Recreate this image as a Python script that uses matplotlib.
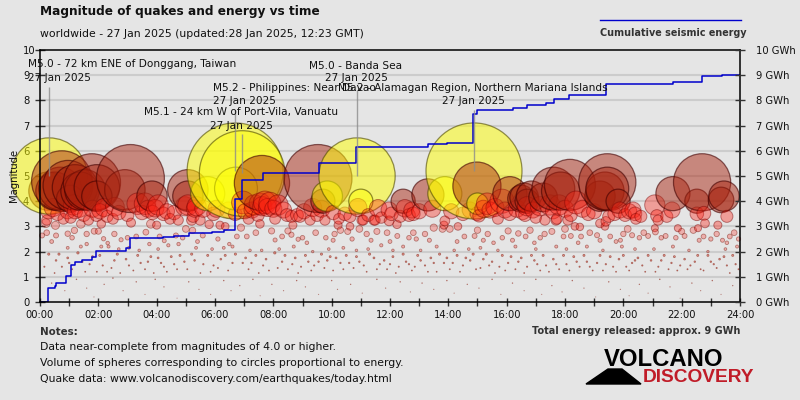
import matplotlib
matplotlib.use("Agg")
import matplotlib.pyplot as plt
import numpy as np
from matplotlib.patches import Polygon

# (hour, magnitude)
yellow_quakes = [(0.31, 5.0), (5.75, 4.3), (6.69, 5.2), (6.72, 4.5), (6.93, 5.1), (9.85, 4.2), (10.87, 5.0),
                 (11.0, 4.0), (13.88, 4.3), (14.88, 5.2), (15.0, 3.9)]
dark_quakes = [(0.27, 4.4), (0.51, 4.4), (0.69, 4.5), (0.75, 4.8), (0.96, 4.63), (1.03, 4.1), (1.2, 4.55),
               (1.37, 4.4), (1.54, 4.45), (1.78, 4.75), (1.95, 4.55), (1.95, 4.2), (2.91, 4.45), (3.1, 4.9),
               (3.84, 4.2), (5.07, 4.45), (5.07, 4.2), (7.61, 4.72), (9.53, 4.9), (9.7, 4.0), (12.45, 4.0),
               (13.3, 4.25), (14.98, 4.6), (16.11, 4.3), (16.5, 4.1), (16.6, 4.15), (16.7, 4.0), (16.85, 4.2),
               (17.25, 4.15), (17.6, 4.5), (17.85, 4.4), (18.17, 4.65), (19.2, 4.2), (19.37, 4.4), (19.45, 4.75),
               (19.45, 4.5), (19.82, 4.0), (21.7, 4.3), (22.52, 4.0), (22.7, 4.75), (23.35, 4.05), (23.45, 4.2)]
mid_quakes = [(0.23, 3.25), (0.29, 3.6), (0.8, 3.3), (1.2, 3.6), (1.15, 3.85), (1.66, 3.25), (1.94, 3.45), (2.1, 3.1),
              (2.3, 3.4), (2.5, 3.3), (2.57, 3.78), (3.0, 3.45), (3.12, 3.15), (3.35, 3.9), (3.6, 3.9), (3.95, 3.72),
              (4.05, 3.85), (4.23, 3.5), (4.46, 3.3), (4.74, 3.25), (4.97, 3.8), (5.2, 3.25), (5.31, 3.7), (4.0, 3.05),
              (5.07, 3.85), (5.37, 3.8), (5.25, 3.4), (5.49, 3.25), (5.8, 3.08), (6.17, 3.05), (6.35, 3.0), (6.69, 3.5),
              (7.03, 3.6), (7.27, 3.65), (7.47, 3.45), (7.54, 3.1), (7.71, 3.95), (7.54, 3.9), (7.88, 3.92), (8.06, 3.3),
              (8.16, 3.85), (8.47, 3.45), (8.81, 3.45), (8.67, 3.05), (8.91, 3.4), (9.26, 3.25), (9.5, 3.45), (9.77, 3.25),
              (10.25, 3.3), (10.22, 3.05), (10.63, 3.4), (10.9, 3.75), (11.04, 3.25), (11.45, 3.25), (10.63, 3.0),
              (6.96, 3.95), (11.08, 3.25), (11.49, 3.25), (11.97, 3.65), (11.97, 3.22), (12.24, 3.08), (11.59, 3.72),
              (12.51, 3.72), (12.75, 3.65), (12.8, 3.5), (13.88, 3.22), (13.85, 3.05), (14.33, 3.0), (14.98, 3.5),
              (15.05, 3.42), (15.33, 3.9), (15.43, 3.65), (15.7, 3.3), (15.94, 3.65), (15.84, 4.0), (16.63, 3.45),
              (16.9, 3.65), (17.31, 3.25), (17.59, 3.6), (17.72, 3.3), (17.14, 3.8), (17.48, 3.85), (17.8, 3.85),
              (16.7, 3.8), (17.69, 3.25), (18.1, 3.25), (18.38, 3.95), (18.34, 3.0), (18.51, 2.98), (18.8, 3.5),
              (19.2, 3.12), (19.4, 3.2), (19.5, 3.4), (19.37, 3.0), (19.88, 3.65), (20.06, 3.45), (20.33, 3.65),
              (20.4, 3.5), (20.43, 3.3), (21.08, 3.85), (21.15, 3.42), (21.19, 3.25), (21.49, 3.4), (21.67, 3.65),
              (22.52, 3.5), (22.76, 3.52), (22.8, 3.12), (23.24, 3.05), (23.55, 3.4), (21.87, 2.93), (22.56, 2.93),
              (21.08, 2.93), (0.45, 3.75), (0.6, 3.5), (0.95, 3.6), (1.05, 3.35), (1.35, 3.7), (1.5, 3.45), (1.8, 3.7),
              (2.05, 3.6), (2.2, 3.75), (2.7, 3.55), (3.5, 3.55), (3.7, 3.7), (3.85, 3.55), (4.35, 3.6), (4.6, 3.55),
              (5.6, 3.7), (5.95, 3.5), (6.05, 3.7), (6.45, 3.65), (7.15, 3.3), (7.35, 3.85), (7.62, 3.8), (7.8, 3.75),
              (8.0, 3.7), (8.35, 3.65), (8.62, 3.4), (9.05, 3.6), (9.35, 3.75), (9.65, 3.7), (10.05, 3.55), (10.45, 3.5),
              (11.25, 3.45), (11.7, 3.35), (12.05, 3.5), (12.35, 3.4), (12.65, 3.45), (13.0, 3.6), (13.45, 3.7),
              (14.1, 3.6), (14.5, 3.5), (14.75, 3.65), (15.2, 3.7), (15.6, 3.75), (16.1, 3.5), (16.35, 3.7), (16.55, 3.55),
              (17.0, 3.35), (18.0, 3.7), (18.2, 3.45), (18.6, 3.7), (19.0, 3.6), (19.7, 3.5), (20.2, 3.6), (20.6, 3.4)]
low_quakes = [(0.07, 2.64), (0.23, 2.75), (0.53, 3.04), (0.2, 3.13), (0.95, 2.71), (1.18, 2.84), (0.55, 2.64), (1.4, 3.1),
              (1.86, 2.81), (2.0, 2.81), (2.18, 2.51), (2.32, 2.34), (2.78, 2.47), (3.0, 2.55), (3.63, 2.77), (3.8, 3.1),
              (4.26, 2.43), (4.66, 2.64), (4.89, 2.55), (5.23, 2.84), (5.58, 2.64), (6.49, 2.3), (6.89, 2.95), (7.09, 2.6),
              (7.94, 2.82), (8.5, 2.82), (8.62, 2.67), (8.85, 2.49), (8.06, 2.46), (9.15, 2.35), (9.45, 2.75), (9.8, 2.55),
              (10.05, 2.45), (10.3, 2.85), (10.55, 2.8), (10.95, 2.9), (11.2, 2.7), (11.55, 2.8), (11.9, 2.75), (12.25, 2.62),
              (12.65, 2.55), (12.9, 2.5), (13.2, 2.7), (13.5, 2.95), (13.8, 2.9), (14.05, 2.9), (14.55, 2.6), (14.9, 2.62),
              (15.2, 2.45), (15.55, 2.35), (15.85, 2.55), (16.05, 2.82), (16.4, 2.72), (16.65, 2.6), (16.95, 2.35),
              (17.3, 2.7), (17.55, 2.8), (17.95, 2.6), (18.2, 2.62), (18.45, 2.35), (18.85, 2.75), (19.1, 2.65), (19.55, 2.6),
              (19.75, 2.4), (20.0, 2.7), (20.3, 2.65), (20.55, 2.55), (20.85, 2.62), (21.1, 2.78), (21.45, 2.62), (21.8, 2.55),
              (22.1, 2.62), (22.4, 2.85), (22.75, 2.6), (23.0, 2.5), (23.4, 2.45), (23.65, 2.6), (23.8, 2.75), (23.95, 2.5),
              (0.95, 2.15), (1.4, 2.2), (1.6, 2.3), (2.1, 2.2), (2.35, 2.2), (2.7, 2.1), (3.05, 2.15), (3.4, 2.05), (3.75, 2.3),
              (4.05, 2.1), (4.4, 2.25), (4.75, 2.3), (5.35, 2.15), (5.9, 2.1), (6.3, 2.15), (6.6, 2.2), (7.2, 2.05), (7.6, 2.05),
              (8.2, 2.1), (8.7, 2.2), (9.35, 2.0), (9.9, 2.1), (10.4, 2.15), (10.85, 2.05), (11.25, 2.1), (11.7, 2.25), (12.1, 2.05),
              (12.45, 2.2), (13.05, 2.05), (13.6, 2.2), (14.2, 2.05), (14.7, 2.1), (15.1, 2.15), (15.7, 2.05), (16.3, 2.2),
              (17.0, 2.1), (17.7, 2.2), (18.05, 2.1), (18.75, 2.2), (19.3, 2.05), (19.95, 2.2), (20.4, 2.1), (21.05, 2.1),
              (21.7, 2.2), (22.25, 2.05), (22.9, 2.0), (23.5, 2.1), (23.9, 2.2), (0.4, 2.4), (1.1, 2.55), (1.6, 2.7), (2.55, 2.7),
              (3.3, 2.6), (4.1, 2.6), (5.0, 2.9), (5.4, 2.4), (6.1, 2.5), (6.75, 2.6), (7.4, 2.75), (8.3, 2.6), (9.0, 2.55),
              (10.1, 2.7), (10.7, 2.5), (11.35, 2.45), (12.0, 2.4), (12.8, 2.75), (13.35, 2.45), (14.3, 2.4), (15.0, 2.85),
              (15.35, 2.7), (16.2, 2.45), (16.8, 2.85), (17.15, 2.55), (18.0, 2.9), (18.55, 2.6), (19.2, 2.45), (19.9, 2.45),
              (20.15, 2.9), (20.7, 2.75), (21.3, 2.55), (22.0, 2.8), (22.6, 2.45), (23.2, 2.7), (23.55, 2.35)]
tiny_quakes = [(0.15, 1.4), (0.3, 1.9), (0.55, 1.65), (0.75, 1.4), (0.95, 1.75), (1.1, 1.3), (1.3, 1.95), (1.55, 1.2),
               (1.7, 1.5), (1.95, 1.2), (2.05, 1.85), (2.3, 1.2), (2.55, 1.65), (2.75, 1.15), (2.95, 1.7), (3.2, 1.25),
               (3.45, 1.55), (3.7, 1.6), (3.9, 1.15), (4.15, 1.55), (4.35, 1.2), (4.6, 1.5), (4.8, 1.85), (5.05, 1.3),
               (5.3, 1.65), (5.5, 1.15), (5.75, 1.85), (5.95, 1.45), (6.2, 1.7), (6.45, 1.25), (6.7, 1.9), (6.95, 1.55),
               (7.15, 1.3), (7.4, 1.85), (7.65, 1.45), (7.85, 1.25), (8.05, 1.95), (8.3, 1.6), (8.5, 1.3), (8.75, 1.75),
               (8.95, 1.4), (9.2, 1.6), (9.4, 1.45), (9.65, 1.9), (9.85, 1.65), (10.05, 1.25), (10.3, 1.55), (10.5, 1.85),
               (10.75, 1.35), (10.95, 1.6), (11.2, 1.2), (11.45, 1.75), (11.65, 1.5), (11.9, 1.3), (12.1, 1.8), (12.3, 1.4),
               (12.55, 1.6), (12.75, 1.25), (12.95, 1.85), (13.2, 1.45), (13.4, 1.75), (13.6, 1.2), (13.85, 1.55), (14.05, 1.3),
               (14.3, 1.85), (14.5, 1.45), (14.75, 1.65), (14.95, 1.3), (15.2, 1.7), (15.4, 1.45), (15.6, 1.15), (15.85, 1.85),
               (16.05, 1.55), (16.3, 1.3), (16.5, 1.75), (16.7, 1.4), (16.95, 1.65), (17.15, 1.25), (17.35, 1.45), (17.6, 1.7),
               (17.8, 1.3), (18.05, 1.5), (18.3, 1.8), (18.5, 1.4), (18.75, 1.6), (18.95, 1.25), (19.2, 1.85), (19.4, 1.5),
               (19.65, 1.4), (19.85, 1.7), (20.1, 1.4), (20.3, 1.55), (20.5, 1.75), (20.75, 1.2), (20.95, 1.65), (21.2, 1.4),
               (21.4, 1.85), (21.65, 1.55), (21.85, 1.25), (22.1, 1.7), (22.3, 1.45), (22.55, 1.85), (22.75, 1.25), (23.0, 1.6),
               (23.2, 1.35), (23.45, 1.8), (23.65, 1.15), (23.85, 1.5), (0.4, 0.75), (0.85, 0.45), (1.25, 0.9), (1.6, 0.55),
               (1.85, 0.2), (2.2, 0.7), (2.5, 0.95), (2.85, 0.45), (3.3, 0.8), (3.6, 0.3), (3.95, 0.9), (4.25, 0.6), (4.7, 0.15),
               (5.1, 0.8), (5.45, 0.5), (5.85, 0.3), (6.3, 0.85), (6.55, 0.45), (6.85, 0.65), (7.3, 0.9), (7.55, 0.25),
               (7.95, 0.7), (8.35, 0.45), (8.8, 0.85), (9.1, 0.6), (9.55, 0.3), (10.0, 0.85), (10.2, 0.5), (10.65, 0.7),
               (11.05, 0.35), (11.55, 0.9), (11.85, 0.55), (12.35, 0.8), (12.7, 0.4), (13.1, 0.75), (13.5, 0.5), (13.95, 0.85),
               (14.2, 0.35), (14.65, 0.7), (15.05, 0.55), (15.5, 0.9), (15.8, 0.3), (16.2, 0.75), (16.6, 0.45), (17.0, 0.9),
               (17.2, 0.3), (17.55, 0.65), (17.9, 0.4), (18.25, 0.85), (18.65, 0.55), (19.05, 0.2), (19.5, 0.8), (19.9, 0.5),
               (20.2, 0.25), (20.55, 0.7), (20.85, 0.35), (21.25, 0.9), (21.6, 0.6), (21.95, 0.15), (22.35, 0.75), (22.65, 0.45),
               (23.05, 0.85), (23.35, 0.3), (23.75, 0.65), (0.5, 1.15), (0.65, 1.9), (1.0, 1.55), (1.45, 1.6), (1.8, 1.8),
               (2.15, 1.45), (2.45, 1.35), (2.65, 1.9), (3.05, 1.45), (3.35, 1.85), (3.6, 1.3), (3.8, 1.8), (4.05, 1.75),
               (4.25, 1.4), (4.5, 1.8), (4.7, 1.3), (4.95, 1.6), (5.2, 1.9), (5.6, 1.5), (5.85, 1.2), (6.1, 1.35), (6.35, 1.85),
               (6.6, 1.55), (7.05, 1.75), (7.25, 1.55), (7.5, 1.15), (7.75, 1.7), (8.15, 1.35), (8.4, 1.85), (8.65, 1.5),
               (8.85, 1.15), (9.1, 1.85), (9.3, 1.25), (9.55, 1.6), (9.75, 1.35), (9.95, 1.8), (10.15, 1.75), (10.4, 1.3),
               (10.6, 1.55), (10.85, 1.8), (11.1, 1.45), (11.3, 1.9), (11.55, 1.3), (11.8, 1.65), (12.0, 1.5), (12.2, 1.15),
               (12.45, 1.9), (12.65, 1.5), (12.85, 1.4), (13.05, 1.65), (13.3, 1.2), (13.5, 1.55), (13.7, 1.9), (13.95, 1.75),
               (14.15, 1.55), (14.4, 1.2), (14.6, 1.75), (14.85, 1.9), (15.1, 1.35), (15.3, 1.9), (15.5, 1.6), (15.75, 1.4),
               (15.95, 1.25), (16.15, 1.8), (16.4, 1.6), (16.6, 1.15), (16.85, 1.85), (17.05, 1.5), (17.25, 1.85), (17.45, 1.2),
               (17.7, 1.5), (17.95, 1.85), (18.15, 1.25), (18.4, 1.6), (18.65, 1.85), (18.85, 1.4), (19.1, 1.55), (19.3, 1.25),
               (19.55, 1.8), (19.75, 1.2), (20.0, 1.85), (20.2, 1.25), (20.4, 1.65), (20.65, 1.45), (20.85, 1.85), (21.1, 1.2),
               (21.3, 1.65), (21.55, 1.3), (21.75, 1.8), (21.95, 1.45), (22.2, 1.3), (22.45, 1.6), (22.65, 1.3), (22.9, 1.85),
               (23.1, 1.5), (23.3, 1.7), (23.55, 1.45), (23.75, 1.85), (23.95, 1.3)]

energy_hours = [0, 0.28, 0.5, 0.55, 0.9, 1.05, 1.2, 1.45, 1.78, 1.93, 2.95, 3.1, 3.9, 4.2, 4.6, 5.1, 5.9, 6.3, 6.68, 6.91,
                7.65, 9.57, 10.83, 13.3, 13.95, 14.85, 14.99, 16.2, 16.7, 17.35, 17.63, 18.14, 19.4, 21.7, 22.7, 23.4, 24]
energy_gwh = [0, 0.56, 0.65, 0.77, 1.05, 1.47, 1.58, 1.65, 1.8, 2.03, 2.13, 2.52, 2.55, 2.58, 2.62, 2.72, 2.78, 2.85, 4.07,
              4.84, 5.1, 5.53, 6.16, 6.27, 6.3, 7.45, 7.6, 7.68, 7.82, 7.9, 8.07, 8.2, 8.64, 8.74, 8.97, 9.02, 9.02]

# annotated events: hour, magnitude, top of the leader line
event_hours = [0.31, 6.69, 6.93, 10.87, 14.88]
event_mags = [5.0, 5.2, 5.1, 5.0, 5.2]
event_tops = [8.55, 7.6, 6.65, 8.4, 7.6]
event_names = ["M5.0 - 72 km ENE of Donggang, Taiwan", "M5.2 - Philippines: Near Davao",
               "M5.1 - 24 km W of Port-Vila, Vanuatu", "M5.0 - Banda Sea",
               "M5.2 - Alamagan Region, Northern Mariana Islands"]
event_date = "27 Jan 2025"

hour_ticks = list(range(25))
magnitude_ticks = list(range(11))
BG = "#e5e5e5"
FONT = "DejaVu Sans"


def radius_px(mag):
    # volume proportional to energy
    return 48 * 10 ** (0.5 * (np.asarray(mag) - 5.2))


def ftext(x, y, s, **kw):
    # position in pixels of the 800x400 picture
    kw.setdefault("color", "#111111")
    kw.setdefault("va", "center")
    kw.setdefault("family", FONT)
    return fig.text(x / 800, 1 - y / 400, s, **kw)


fig = plt.figure(figsize=(8, 4), dpi=100, facecolor=BG)
ax = fig.add_axes([40 / 800, 1 - 302 / 400, 700 / 800, 252 / 400], facecolor=BG)
ax.set_xlim(0, 24)
ax.set_ylim(0, 10)

for m in magnitude_ticks[1:-1]:
    ax.axhline(m, color="#cccccc", lw=1.5, zorder=1)

# everything in time order, later quakes lie on top of earlier ones
groups = [(yellow_quakes, (1, 1, 0, 0.5), (0.3, 0.28, 0, 0.6), 0.9),
          (dark_quakes, (0.66, 0.13, 0.05, 0.48), (0.25, 0, 0, 0.6), 0.9),
          (mid_quakes, (1, 0.12, 0.07, 0.36), (0.45, 0, 0, 0.45), 0.7),
          (low_quakes, (1, 0.15, 0.1, 0.28), (0.45, 0.05, 0, 0.45), 0.6),
          (tiny_quakes, (0.9, 0.2, 0.1, 0.4), (0.5, 0.1, 0.05, 0.55), 0.6)]
rows = []
for quakes, fc, ec, lw in groups:
    for t, m in quakes:
        rows.append((t, m, fc, ec, lw))
rows.sort(key=lambda r: r[0])
hours = [r[0] for r in rows]
mags = np.array([r[1] for r in rows])
sizes = (2 * radius_px(mags) * 0.72) ** 2
ax.scatter(hours, mags, s=sizes, c=[r[2] for r in rows], edgecolors=[r[3] for r in rows],
           linewidths=[r[4] for r in rows], zorder=3, clip_on=False)

ax.step(energy_hours, energy_gwh, where="post", color="#0000cc", lw=1.1, zorder=4)
ax.vlines(event_hours, event_mags, event_tops, color="#8c8c8c", lw=1, alpha=0.8, zorder=5)

for side in ax.spines.values():
    side.set_color("black")
    side.set_linewidth(1.1)
    side.set_zorder(6)

ax.set_xticks(hour_ticks)
ax.set_xticklabels(["%02d:00" % h if h % 2 == 0 else "" for h in hour_ticks], fontsize=7.2, family=FONT, color="#111111")
ax.set_yticks(magnitude_ticks)
ax.set_yticklabels(magnitude_ticks, fontsize=7.2, family=FONT, color="#111111", ha="left")
ax.tick_params(axis="x", direction="inout", length=6, width=1, color="#333333", pad=3)
ax.tick_params(axis="y", direction="inout", length=6.5, width=1, color="#333333", pad=9)
right = ax.twinx()
right.set_ylim(0, 10)
right.set_yticks(magnitude_ticks)
right.set_yticklabels(["%d GWh" % m for m in magnitude_ticks], fontsize=7.2, family=FONT, color="#111111")
right.tick_params(axis="y", direction="inout", length=6.5, width=1, color="#333333", pad=8)
right.spines[:].set_visible(False)

ftext(14, 175, "Magnitude", fontsize=7.2, rotation=90, ha="center")

# event labels
ftext(28, 64, event_names[0], fontsize=7.6, ha="left")
ftext(28, 78, event_date, fontsize=7.6, ha="left")
ftext(213, 88, event_names[1], fontsize=7.6, ha="left")
ftext(213, 101, event_date, fontsize=7.6, ha="left")
ftext(241, 112, event_names[2], fontsize=7.6, ha="center")
ftext(241, 126, event_date, fontsize=7.6, ha="center")
ftext(356, 66, event_names[3], fontsize=7.6, ha="center")
ftext(356, 78, event_date, fontsize=7.6, ha="center")
ftext(473, 88, event_names[4], fontsize=7.6, ha="center")
ftext(473, 101, event_date, fontsize=7.6, ha="center")

# header
ftext(40, 12, "Magnitude of quakes and energy vs time", fontsize=8.7, fontweight="bold")
ftext(40, 34, "worldwide - 27 Jan 2025 (updated:28 Jan 2025, 12:23 GMT)", fontsize=7.8)
fig.add_artist(plt.Line2D([600 / 800, 741 / 800], [1 - 20 / 400, 1 - 20 / 400], color="#0000cc", lw=1))
ftext(600, 33, "Cumulative seismic energy", fontsize=6.95, fontweight="bold", color="#333333")

# notes
ftext(40, 332, "Notes:", fontsize=7.4, fontweight="bold", color="#333333")
ftext(40, 347, "Data near-complete from magnitudes of 4.0 or higher.", fontsize=7.8)
ftext(40, 363, "Volume of spheres corresponding to circles proportional to energy.", fontsize=7.85)
ftext(40, 379, "Quake data: www.volcanodiscovery.com/earthquakes/today.html", fontsize=7.85)
ftext(740, 331, "Total energy released: approx. 9 GWh", fontsize=7.0, fontweight="bold", color="#333333", ha="right")

# logo
fig.add_artist(Polygon([(586 / 800, 1 - 384 / 400), (608 / 800, 1 - 369 / 400), (622 / 800, 1 - 369 / 400),
                        (641 / 800, 1 - 384 / 400)], closed=True, color="black", transform=fig.transFigure))
ftext(604, 359, "VOLCANO", fontsize=17.2, fontweight="bold", color="black", family="Liberation Sans")
ftext(643, 378, "DISCOVERY", fontsize=13.8, fontweight="bold", color="#c01c28", family="Liberation Sans")

fig.savefig("out.png", dpi=100, facecolor=BG)
